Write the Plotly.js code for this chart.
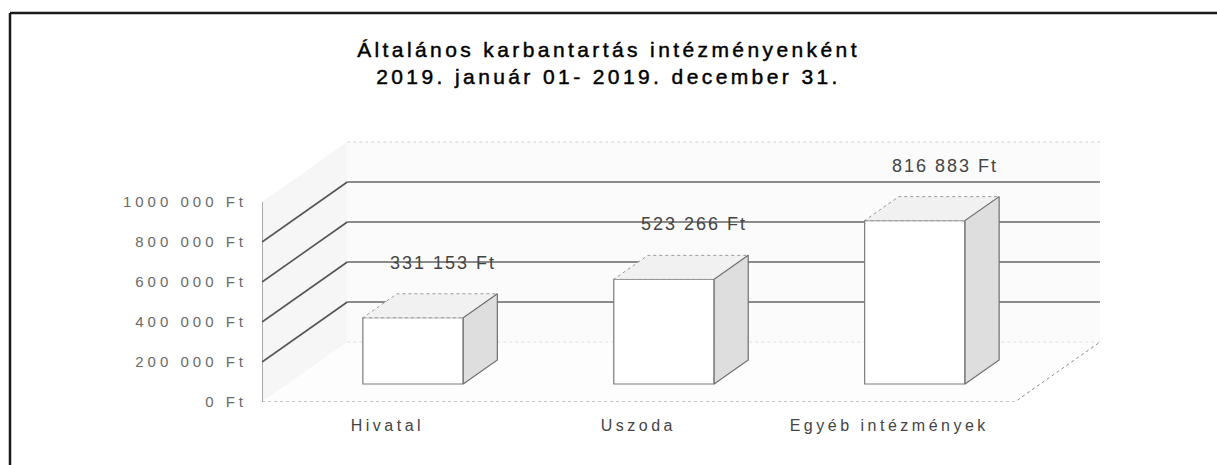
<!DOCTYPE html>
<html>
<head>
<meta charset="utf-8">
<script src="https://cdn.plot.ly/plotly-3.0.1.min.js"></script>
<style>
  html, body { margin: 0; padding: 0; background: #fff; }
  #chart { width: 1217px; height: 465px; }
  /* wide, loosely tracked lettering of the printed chart */
  #chart .ytick text { letter-spacing: 4px; }
  #chart .xtick text { letter-spacing: 3.5px; }
  #chart .gtitle { letter-spacing: 3.4px; stroke: #000; stroke-width: 0.45px; }
  #chart .annotation-text { letter-spacing: 2px; }
</style>
</head>
<body>
<div id="chart"></div>
<script>
// Institutions and yearly general maintenance cost (Ft)
const categories = ['Hivatal', 'Uszoda', 'Egyéb intézmények'];
const costs = [331153, 523266, 816883];

// Value axis ticks
const tickValues = [0, 200000, 400000, 600000, 800000, 1000000];
const tickLabels = ['0 Ft', '200 000 Ft', '400 000 Ft', '600 000 Ft', '800 000 Ft', '1000 000 Ft'];

const titleText = 'Általános karbantartás intézményenként<br>2019. január 01- 2019. december 31.';

// ---- oblique 3-D projection settings ----
const DEPTH_X = 0.34;      // horizontal shift of the back plane (category units)
const DEPTH_Y = 300000;    // vertical shift of the back plane (value units)
const BAR_HALF = 0.2;      // half bar width (category units)
const BAR_F0 = 0.3;        // bar front depth (0 = front, 1 = back wall)
const BAR_F1 = 0.7;        // bar back depth
const X_MIN = -0.5, X_MAX = categories.length - 0.5;
const WALL_TOP = 1000000;

function pt(x, y, f) { return [x + f * DEPTH_X, y + f * DEPTH_Y]; }

function polygon(points, fill, line, width, dash, axes) {
  const xs = points.map(p => p[0]);
  const ys = points.map(p => p[1]);
  xs.push(xs[0]); ys.push(ys[0]);
  return {
    type: 'scatter', mode: 'lines', x: xs, y: ys,
    xaxis: axes ? axes[0] : 'x', yaxis: axes ? axes[1] : 'y',
    fill: fill ? 'toself' : 'none', fillcolor: fill || 'rgba(0,0,0,0)',
    line: { color: line || 'rgba(0,0,0,0)', width: width || 0, dash: dash || 'solid' },
    hoverinfo: 'skip', showlegend: false
  };
}

function polyline(points, color, width, dash) {
  return {
    type: 'scatter', mode: 'lines',
    x: points.map(p => p[0]), y: points.map(p => p[1]),
    line: { color: color, width: width, dash: dash || 'solid' },
    hoverinfo: 'skip', showlegend: false
  };
}

function formatFt(v) {
  return String(v).replace(/\B(?=(\d{3})+(?!\d))/g, ' ') + ' Ft';
}

const traces = [];

// walls and floor (base subplot)
traces.push(polygon([pt(X_MIN, 0, 0), pt(X_MIN, WALL_TOP, 0), pt(X_MIN, WALL_TOP, 1), pt(X_MIN, 0, 1)], '#f6f6f6'));
traces.push(polygon([pt(X_MIN, 0, 1), pt(X_MAX, 0, 1), pt(X_MAX, WALL_TOP, 1), pt(X_MIN, WALL_TOP, 1)], '#fbfbfb'));
traces.push(polygon([pt(X_MIN, 0, 0), pt(X_MAX, 0, 0), pt(X_MAX, 0, 1), pt(X_MIN, 0, 1)], '#fdfdfd'));

// wall edges
traces.push(polyline([pt(X_MIN, WALL_TOP, 1), pt(X_MAX, WALL_TOP, 1)], '#cfcfcf', 1, 'dot'));
traces.push(polyline([pt(X_MIN, 0, 1), pt(X_MAX, 0, 1)], '#dedede', 1, 'dot'));
traces.push(polyline([pt(X_MIN, 0, 0), pt(X_MAX, 0, 0), pt(X_MAX, 0, 1)], '#8a8a8a', 1, 'dot'));
traces.push(polyline([pt(X_MIN, 0, 0), pt(X_MIN, WALL_TOP, 0)], '#777777', 1.2));

// gridlines running along the side wall and across the back wall
tickValues.filter(v => v > 0 && v < WALL_TOP).forEach(v => {
  traces.push(polyline([pt(X_MIN, v, 0), pt(X_MIN, v, 1)], '#555555', 1.6));
  traces.push(polyline([pt(X_MIN, v, 1), pt(X_MAX, v, 1)], '#666666', 1.3));
});

// bar front faces (overlay subplot, drawn above the walls)
traces.push({
  type: 'bar', xaxis: 'x2', yaxis: 'y2',
  x: categories.map((c, i) => i + BAR_F0 * DEPTH_X),
  y: costs,
  base: costs.map(() => BAR_F0 * DEPTH_Y),
  width: 2 * BAR_HALF,
  marker: { color: '#ffffff', line: { color: '#7a7a7a', width: 1.2 } },
  hoverinfo: 'skip', showlegend: false
});

// bar tops and right sides
costs.forEach((v, i) => {
  const xl = i - BAR_HALF, xr = i + BAR_HALF;
  traces.push(polygon([pt(xl, v, BAR_F0), pt(xr, v, BAR_F0), pt(xr, v, BAR_F1), pt(xl, v, BAR_F1)],
    '#f1f1f1', '#9a9a9a', 1, 'dot', ['x2', 'y2']));
  traces.push(polygon([pt(xr, 0, BAR_F0), pt(xr, v, BAR_F0), pt(xr, v, BAR_F1), pt(xr, 0, BAR_F1)],
    '#dedede', '#6f6f6f', 1.2, 'solid', ['x2', 'y2']));
});

// value labels above each bar
const annotations = costs.map((v, i) => {
  const p = pt(i, v, BAR_F1);
  return {
    x: p[0], y: p[1], xref: 'x', yref: 'y',
    text: formatFt(v), showarrow: false,
    xanchor: 'center', yanchor: 'middle', yshift: 31, xshift: -4,
    font: { family: 'Liberation Sans, Arial, sans-serif', size: 18, color: '#444444' }
  };
});

// plot frame in pixels -> paper coordinates
const W = 1217, H = 465, ML = 262, MR = 117, MT = 140, MB = 63;
const PW = W - ML - MR, PH = H - MT - MB;
const px = x => (x - ML) / PW;
const py = y => (H - MB - y) / PH;

const xRange = [X_MIN, X_MAX + DEPTH_X];
const yRange = [0, WALL_TOP + DEPTH_Y + 10000];

const layout = {
  width: W, height: H,
  margin: { l: ML, r: MR, t: MT, b: MB, pad: 0 },
  paper_bgcolor: '#ffffff', plot_bgcolor: '#ffffff',
  showlegend: false, hovermode: false, bargap: 0,
  title: {
    text: titleText,
    x: 0.5, xref: 'container', xanchor: 'center',
    y: 1 - 57 / H, yref: 'container', yanchor: 'middle',
    font: { family: 'Liberation Sans, Arial, sans-serif', size: 21, color: '#000000' }
  },
  xaxis: {
    range: xRange, fixedrange: true,
    tickvals: categories.map((c, i) => i), ticktext: categories,
    showgrid: false, zeroline: false, showline: false, ticks: '',
    ticklabelstandoff: 12,
    tickfont: { family: 'Liberation Sans, Arial, sans-serif', size: 16, color: '#444444' }
  },
  yaxis: {
    range: yRange, fixedrange: true,
    tickvals: tickValues, ticktext: tickLabels,
    showgrid: false, zeroline: false, showline: false, ticks: '',
    ticklabelstandoff: 14,
    tickfont: { family: 'Liberation Sans, Arial, sans-serif', size: 15, color: '#6a6a6a' }
  },
  xaxis2: { overlaying: 'x', range: xRange, visible: false, fixedrange: true },
  yaxis2: { overlaying: 'y', range: yRange, visible: false, fixedrange: true },
  annotations: annotations,
  shapes: [
    { type: 'line', xref: 'paper', yref: 'paper', x0: px(10), x1: px(10), y0: py(13), y1: py(H + 2),
      line: { color: '#1a1a1a', width: 2.5 } },
    { type: 'line', xref: 'paper', yref: 'paper', x0: px(10), x1: px(W + 2), y0: py(13), y1: py(13),
      line: { color: '#1a1a1a', width: 2.5 } }
  ]
};

Plotly.newPlot('chart', traces, layout, { staticPlot: true, displayModeBar: false });
</script>
</body>
</html>
